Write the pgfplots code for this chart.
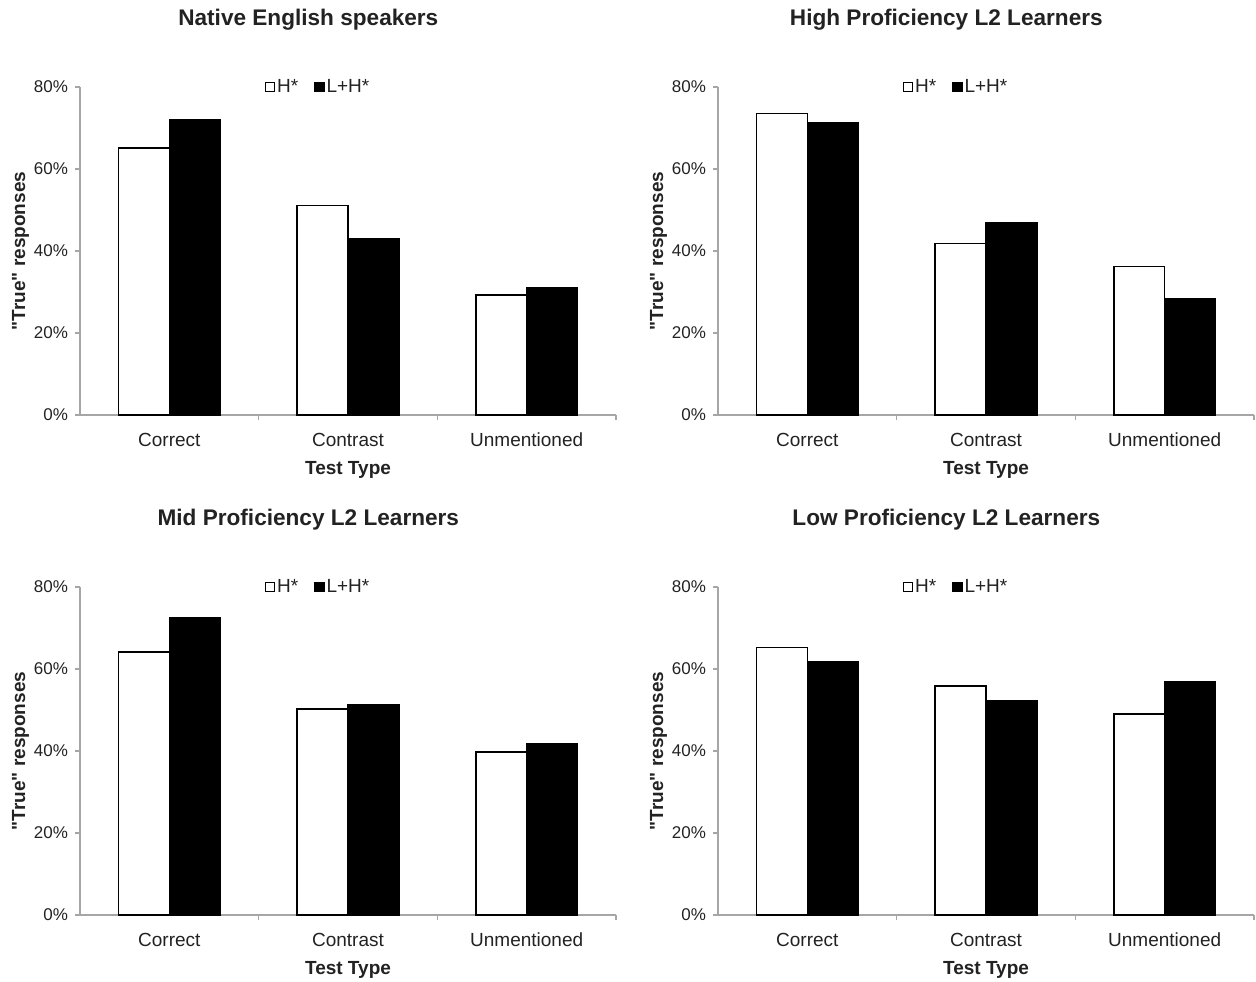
\documentclass[border=0pt]{standalone}
\usepackage{fontspec}
\setmainfont{Liberation Sans}
\usepackage{pgfplots}
\pgfplotsset{compat=1.18}
\usepackage{pgfplotstable}
\definecolor{txt}{HTML}{222222}
\definecolor{axisgray}{HTML}{A6A6A6}

\pgfplotstableread{
x h lh
0 65.1 72.1
1 51.1 43.1
2 29.2 31.0
}\native
\pgfplotstableread{
x h lh
0 73.5 71.3
1 41.8 47.0
2 36.2 28.4
}\high
\pgfplotstableread{
x h lh
0 64.2 72.5
1 50.3 51.2
2 39.8 41.8
}\mid
\pgfplotstableread{
x h lh
0 65.3 61.7
1 55.9 52.3
2 49.0 57.0
}\low

\pgfplotsset{
  panel/.style={
    scale only axis, width=268pt, height=164pt,
    anchor=south west,
    ymin=0, ymax=80, xmin=-0.5, xmax=2.5,
    axis lines*=left,
    axis line style={draw=axisgray, line width=0.7pt},
    tick align=outside,
    major tick length=2.5pt,
    tick style={draw=axisgray, line width=0.7pt},
    ytick={0,20,40,60,80},
    yticklabels={0\%,20\%,40\%,60\%,80\%},
    yticklabel style={font=\fontsize{8.5}{10}\selectfont, text=txt},
    xtick={0.5,1.5,2.5},
    xticklabels={,,},
    extra x ticks={0,1,2},
    extra x tick labels={Correct,Contrast,Unmentioned},
    extra x tick style={major tick length=0pt,
      xticklabel style={font=\fontsize{9.5}{11}\selectfont, text=txt, anchor=center, yshift=-12.5pt}},
    xlabel={Test Type},
    xlabel style={font=\bfseries\fontsize{9.5}{11}\selectfont, text=txt, at={(0.5,0)}, anchor=center, yshift=-27.5pt},
    ylabel={\textquotedbl True\textquotedbl\ responses},
    ylabel style={font=\bfseries\fontsize{9.5}{11}\selectfont, text=txt, at={(-0.111,0.5)}, anchor=center},
    title style={font=\bfseries\fontsize{11.3}{13}\selectfont, text=txt, at={(0.426,1)}, anchor=center, yshift=27.5pt},
    legend style={at={(0.444,1)}, anchor=center, draw=none, fill=none,
      legend columns=2, font=\fontsize{9.5}{11}\selectfont, text=txt,
      nodes={inner sep=1pt},
      /tikz/every even column/.append style={column sep=7pt}},
  },
  hbar/.style={ybar, bar width=0.284, bar shift=-0.142, draw=black, fill=white, line width=0.8pt,
    legend image code/.code={\draw[draw=black, fill=white, line width=0.6pt] (0pt,-2.3pt) rectangle (4.6pt,2.3pt);}},
  lbar/.style={ybar, bar width=0.284, bar shift=0.142, draw=black, fill=black, line width=0.8pt,
    legend image code/.code={\draw[draw=black, fill=black, line width=0.6pt] (0pt,-2.3pt) rectangle (4.6pt,2.3pt);}},
}

\begin{document}
\begin{tikzpicture}
\useasboundingbox (0,0) rectangle (628pt,-490.5pt);

\begin{axis}[panel, at={(40pt,-207.5pt)}, title={Native English speakers}]
\addplot[hbar] table[x=x,y=h]{\native};
\addplot[lbar] table[x=x,y=lh]{\native};
\legend{H*,L+H*}
\end{axis}

\begin{axis}[panel, at={(359pt,-207.5pt)}, title={High Proficiency L2 Learners}]
\addplot[hbar] table[x=x,y=h]{\high};
\addplot[lbar] table[x=x,y=lh]{\high};
\legend{H*,L+H*}
\end{axis}

\begin{axis}[panel, at={(40pt,-457.5pt)}, title={Mid Proficiency L2 Learners}]
\addplot[hbar] table[x=x,y=h]{\mid};
\addplot[lbar] table[x=x,y=lh]{\mid};
\legend{H*,L+H*}
\end{axis}

\begin{axis}[panel, at={(359pt,-457.5pt)}, title={Low Proficiency L2 Learners}]
\addplot[hbar] table[x=x,y=h]{\low};
\addplot[lbar] table[x=x,y=lh]{\low};
\legend{H*,L+H*}
\end{axis}
\end{tikzpicture}
\end{document}
